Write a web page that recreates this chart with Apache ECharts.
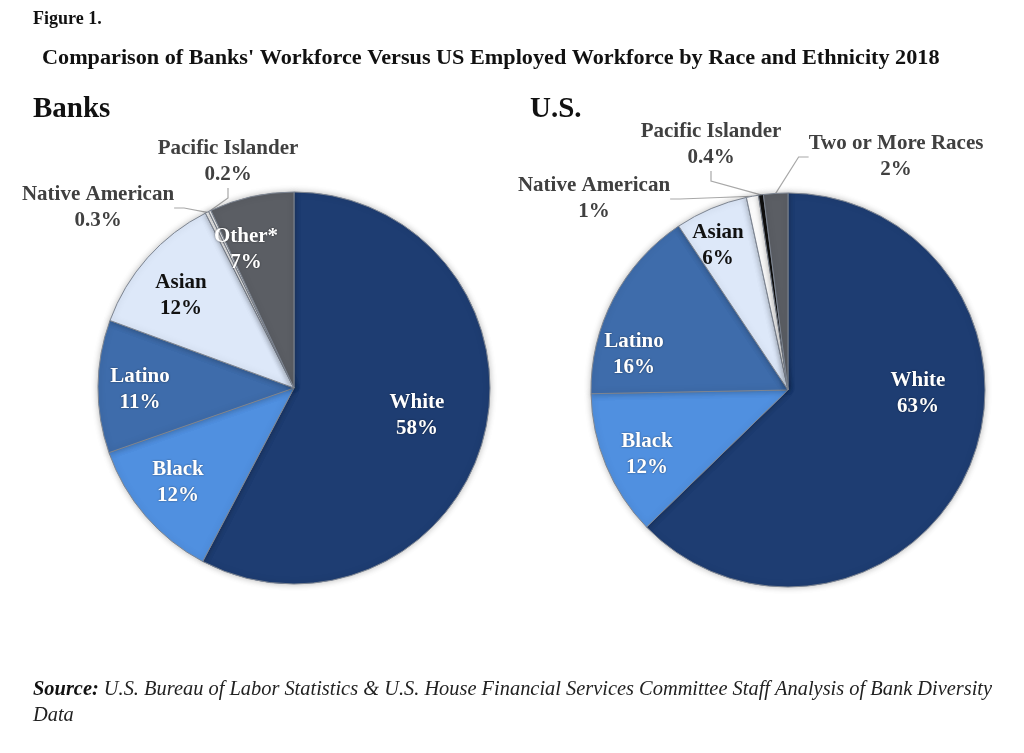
<!DOCTYPE html>
<html>
<head>
<meta charset="utf-8">
<script src="https://cdn.jsdelivr.net/npm/echarts@6/dist/echarts.min.js"></script>
<style>
  html, body { margin: 0; padding: 0; background: #fff; }
  #chart { width: 1024px; height: 753px; }
</style>
</head>
<body>
<div id="chart"></div>
<script>
// data
const banksCategories = ['White', 'Black', 'Latino', 'Asian', 'Native American', 'Pacific Islander', 'Other*'];
const banksValues = [58, 12, 11, 12, 0.3, 0.2, 7];
const usCategories = ['White', 'Black', 'Latino', 'Asian', 'Native American', 'Pacific Islander', 'Two or More Races'];
const usValues = [63, 12, 16, 6, 1, 0.4, 2];

const banksColors = ['#1e3d72', '#5090e0', '#3e6cab', '#dde8f9', '#ffffff', '#ffffff', '#5b5e64'];
const usColors = ['#1e3d72', '#5090e0', '#3e6cab', '#dde8f9', '#ffffff', '#111111', '#5b5e64'];
const banksDark = [false, false, false, true, true, true, false];
const usDark = [false, false, false, true, true, true, true];
const banksOutside = [false, false, false, false, true, true, false];
const usOutside = [false, false, false, false, true, true, true];

// label centres in px
const labelPos = [
  [[417, 416], [178, 483], [140, 390], [181, 296], [98, 208], [228, 162], [246, 250]],
  [[918, 394], [647, 455], [634, 355], [718, 246], [594, 199], [711, 145], [896, 157]]
];

const serif = '"Liberation Serif", "Times New Roman", serif';

function buildData(cats, vals, colors, dark, outside) {
  return cats.map((c, i) => ({
    name: c,
    value: vals[i],
    itemStyle: { color: colors[i] },
    label: {
      color: dark[i] ? (outside[i] ? '#404040' : '#111111') : '#ffffff',
      textShadowColor: dark[i] ? 'transparent' : 'rgba(0,0,0,0.5)',
      textShadowBlur: dark[i] ? 0 : 2
    },
    labelLine: { show: outside[i] }
  }));
}

function pieSeries(name, center, radius, data) {
  return {
    name: name,
    type: 'pie',
    center: center,
    radius: radius,
    startAngle: 90,
    clockwise: true,
    avoidLabelOverlap: false,
    animation: false,
    itemStyle: {
      borderColor: '#7d8592',
      borderWidth: 1,
      shadowColor: 'rgba(0,0,0,0.25)',
      shadowBlur: 6
    },
    label: {
      show: true,
      position: 'outside',
      fontFamily: serif,
      fontWeight: 'bold',
      fontSize: 21,
      lineHeight: 26,
      align: 'center',
      formatter: p => p.name + '\n' + p.value + '%'
    },
    labelLine: {
      show: false,
      length: 10,
      length2: 10,
      lineStyle: { color: '#a8a8a8', width: 1.2 }
    },
    labelLayout: function (params) {
      const pos = labelPos[params.seriesIndex][params.dataIndex];
      return { x: pos[0], y: pos[1], align: 'center', verticalAlign: 'middle' };
    },
    emphasis: { disabled: true },
    data: data
  };
}

const chart = echarts.init(document.getElementById('chart'));
const option = {
  backgroundColor: '#ffffff',
  graphic: [
    { type: 'text', left: 33, top: 10, style: { text: 'Figure 1.', font: 'bold 18px ' + serif, fill: '#111' } },
    { type: 'text', x: 42, y: 49, scaleX: 1.11, style: { text: "Comparison of Banks' Workforce Versus US Employed Workforce by Race and Ethnicity 2018", font: 'bold 20px ' + serif, fill: '#111' } },
    { type: 'text', left: 33, top: 95, style: { text: 'Banks', font: 'bold 29px ' + serif, fill: '#111' } },
    { type: 'text', left: 530, top: 95, style: { text: 'U.S.', font: 'bold 29px ' + serif, fill: '#111' } },
    {
      type: 'text', x: 33, y: 680, scaleX: 1.02,
      style: {
        text: '{b|Source:} U.S. Bureau of Labor Statistics & U.S. House Financial Services Committee Staff Analysis of Bank Diversity',
        font: 'italic 20px ' + serif, fill: '#222',
        rich: { b: { font: 'italic bold 20px ' + serif, fill: '#111' } }
      }
    },
    { type: 'text', x: 33, y: 706, scaleX: 1.02, style: { text: 'Data', font: 'italic 20px ' + serif, fill: '#222' } }
  ],
  series: [
    pieSeries('Banks', [294, 388], 196, buildData(banksCategories, banksValues, banksColors, banksDark, banksOutside)),
    pieSeries('U.S.', [788, 390], 197, buildData(usCategories, usValues, usColors, usDark, usOutside))
  ]
};
chart.setOption(option);
</script>
</body>
</html>
